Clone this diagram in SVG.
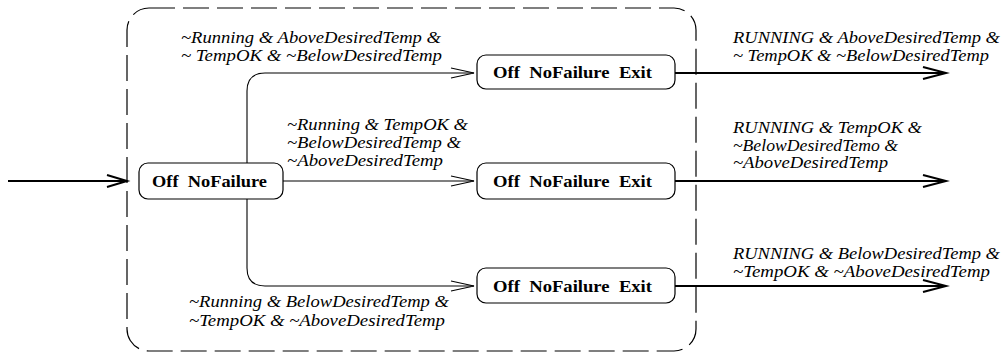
<svg xmlns="http://www.w3.org/2000/svg" width="1003" height="352" viewBox="0 0 1003 352">
  <style>
    .state { fill: #fff; stroke: #000; stroke-width: 1.2; }
    .name { font-family: "Liberation Serif", "Times New Roman", serif; font-weight: bold; font-size: 17px; fill: #000; }
    .label { font-family: "Liberation Serif", "Times New Roman", serif; font-style: italic; font-size: 17px; fill: #000; }
    .thin { fill: none; stroke: #000; stroke-width: 1.1; }
    .thick { fill: none; stroke: #000; stroke-width: 2; }
    .boundary { fill: none; stroke: #000; stroke-width: 1.2; stroke-dasharray: 26 8; }
  </style>

  <!-- enclosing superstate boundary -->
  <rect class="boundary" x="127" y="8" width="569" height="343" rx="22" ry="22"/>

  <g id="connectors">
    <!-- entry -->
    <path class="thick" d="M8,181 H126"/>
    <path class="thick" d="M107,175 L127,181 L107,187"/>
    <!-- internal transitions -->
    <path class="thin" d="M247,163 V91 Q247,73 265,73 H474"/>
    <path class="thin" d="M451,68 L474,73 L451,78"/>
    <path class="thin" d="M283,181 H474"/>
    <path class="thin" d="M451,176 L474,181 L451,186"/>
    <path class="thin" d="M247,199 V268 Q247,286 265,286 H474"/>
    <path class="thin" d="M451,281 L474,286 L451,291"/>
    <!-- exits -->
    <path class="thick" d="M675,73 H945"/>
    <path class="thick" d="M923,67 L946,73 L923,79"/>
    <path class="thick" d="M675,181 H945"/>
    <path class="thick" d="M923,175 L946,181 L923,187"/>
    <path class="thick" d="M675,286 H945"/>
    <path class="thick" d="M923,280 L946,286 L923,292"/>
  </g>

  <g id="off-nofailure">
    <rect class="state" x="139" y="163" width="144" height="36" rx="9" ry="9"/>
    <text class="name" x="152" y="187" textLength="115" lengthAdjust="spacingAndGlyphs" xml:space="preserve">Off  NoFailure</text>
  </g>
  <g id="exit-above">
    <rect class="state" x="477" y="55" width="198" height="34" rx="9" ry="9"/>
    <text class="name" x="493" y="78" textLength="159" lengthAdjust="spacingAndGlyphs" xml:space="preserve">Off  NoFailure  Exit</text>
  </g>
  <g id="exit-ok">
    <rect class="state" x="477" y="163" width="198" height="36" rx="9" ry="9"/>
    <text class="name" x="493" y="187" textLength="159" lengthAdjust="spacingAndGlyphs" xml:space="preserve">Off  NoFailure  Exit</text>
  </g>
  <g id="exit-below">
    <rect class="state" x="477" y="268" width="198" height="35" rx="9" ry="9"/>
    <text class="name" x="493" y="292" textLength="159" lengthAdjust="spacingAndGlyphs" xml:space="preserve">Off  NoFailure  Exit</text>
  </g>

  <g id="labels">
    <text class="label" x="181" y="43" textLength="260" lengthAdjust="spacingAndGlyphs">~Running &amp; AboveDesiredTemp &amp;</text>
    <text class="label" x="181" y="61" textLength="261" lengthAdjust="spacingAndGlyphs">~ TempOK &amp; ~BelowDesiredTemp</text>

    <text class="label" x="287" y="130" textLength="181" lengthAdjust="spacingAndGlyphs">~Running &amp; TempOK &amp;</text>
    <text class="label" x="287" y="148" textLength="174" lengthAdjust="spacingAndGlyphs">~BelowDesiredTemp &amp;</text>
    <text class="label" x="287" y="166" textLength="156" lengthAdjust="spacingAndGlyphs">~AboveDesiredTemp</text>

    <text class="label" x="189" y="307" textLength="260" lengthAdjust="spacingAndGlyphs">~Running &amp; BelowDesiredTemp &amp;</text>
    <text class="label" x="189" y="326" textLength="256" lengthAdjust="spacingAndGlyphs">~TempOK &amp; ~AboveDesiredTemp</text>

    <text class="label" x="733" y="43" textLength="267" lengthAdjust="spacingAndGlyphs">RUNNING &amp; AboveDesiredTemp &amp;</text>
    <text class="label" x="733" y="61" textLength="256" lengthAdjust="spacingAndGlyphs">~ TempOK &amp; ~BelowDesiredTemp</text>

    <text class="label" x="733" y="133" textLength="189" lengthAdjust="spacingAndGlyphs">RUNNING &amp; TempOK &amp;</text>
    <text class="label" x="733" y="151" textLength="165" lengthAdjust="spacingAndGlyphs">~BelowDesiredTemo &amp;</text>
    <text class="label" x="733" y="168" textLength="155" lengthAdjust="spacingAndGlyphs">~AboveDesiredTemp</text>

    <text class="label" x="733" y="259" textLength="267" lengthAdjust="spacingAndGlyphs">RUNNING &amp; BelowDesiredTemp &amp;</text>
    <text class="label" x="733" y="277" textLength="257" lengthAdjust="spacingAndGlyphs">~TempOK &amp; ~AboveDesiredTemp</text>
  </g>
</svg>
